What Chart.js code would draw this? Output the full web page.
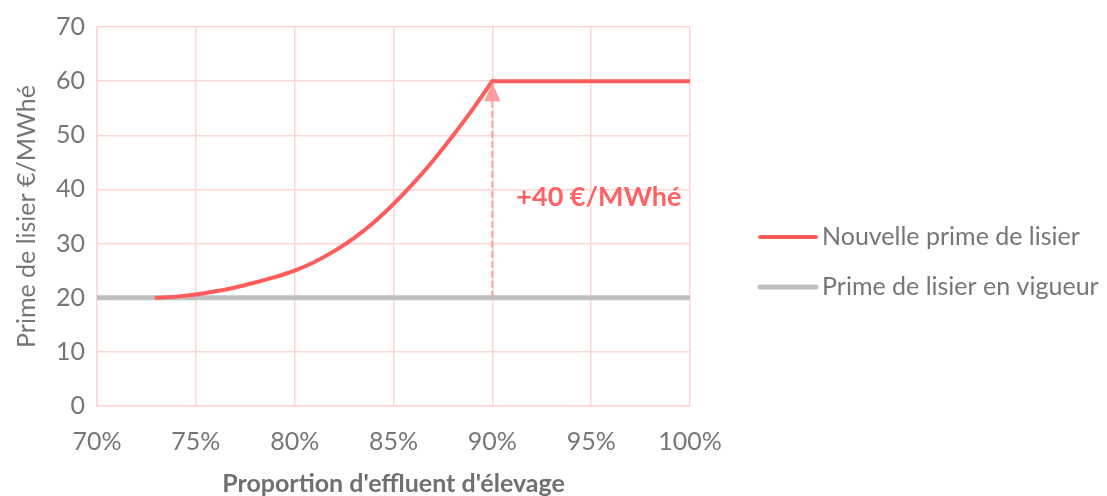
<!DOCTYPE html>
<html>
<head>
<meta charset="utf-8">
<script src="https://cdn.jsdelivr.net/npm/chart.js@4"></script>
<style>
  html, body { margin: 0; padding: 0; background: #ffffff; }
  #wrap { width: 1107px; height: 496px; position: relative; }
</style>
</head>
<body>
<div id="wrap"><canvas id="c"></canvas></div>
<script>
// Share of livestock effluent (%) and the proposed slurry premium (€/MWhé)
const shareNew = [73, 74, 75, 76, 77, 78, 79, 80, 81, 82, 83, 84, 85, 86, 87, 88, 89, 90, 100];
const primeNew = [20.0, 20.2, 20.6, 21.2, 21.9, 22.8, 23.8, 25.0, 26.6, 28.6, 31.0, 33.9, 37.3, 41.1, 45.3, 49.9, 54.8, 60.0, 60.0];

// Premium currently in force
const shareCurrent = [70, 100];
const primeCurrent = [20, 20];

// Step highlighted by the arrow
const stepShare = 90;
const stepFrom = 20;
const stepTo = 60;

const labelNew = 'Nouvelle prime de lisier';
const labelCurrent = 'Prime de lisier en vigueur';
const xTitle = "Proportion d'effluent d'élevage";
const yTitle = 'Prime de lisier €/MWhé';

const RED = '#ff5c5c';
const GREY = '#bfbfbf';
const ARROW = '#ff9c9c';
const GRID = '#ffd6d6';
const TEXT = '#767676';
const FONT = 'Lato, "Open Sans", sans-serif';

const toPoints = (xs, ys) => xs.map((x, i) => ({ x: x, y: ys[i] }));

// the rising part is smoothed, the plateau after the step stays straight
const kneeIdx = shareNew.indexOf(stepShare);
const newPoints = toPoints(shareNew, primeNew);
const risePoints = newPoints.slice(0, kneeIdx + 1);
const plateauPoints = newPoints.slice(kneeIdx);

const overlay = {
  id: 'overlay',
  afterDatasetsDraw(chart) {
    const ctx = chart.ctx;
    const xs = chart.scales.x, ys = chart.scales.y;
    const px = xs.getPixelForValue(stepShare);
    const tip = ys.getPixelForValue(stepTo);
    // arrow head
    ctx.save();
    ctx.fillStyle = ARROW;
    ctx.beginPath();
    ctx.moveTo(px, tip + 1);
    ctx.lineTo(px + 8, tip + 20);
    ctx.lineTo(px - 8, tip + 20);
    ctx.closePath();
    ctx.fill();
    // step label
    ctx.fillStyle = '#ff6262';
    ctx.font = 'bold 27px ' + FONT;
    ctx.textBaseline = 'middle';
    ctx.textAlign = 'left';
    const diff = stepTo - stepFrom;
    ctx.fillText('+' + diff + ' €/MWhé', px + 24, ys.getPixelForValue((stepFrom + stepTo) / 2) + 8);
    ctx.restore();
  },
  afterDraw(chart) {
    const ctx = chart.ctx;
    const x0 = chart.chartArea.right + 70;
    const rows = [
      { label: labelNew, color: RED, width: 4, y: 237 },
      { label: labelCurrent, color: GREY, width: 5, y: 287 }
    ];
    ctx.save();
    ctx.font = '25px ' + FONT;
    ctx.textBaseline = 'middle';
    ctx.textAlign = 'left';
    rows.forEach(r => {
      ctx.strokeStyle = r.color;
      ctx.lineWidth = r.width;
      ctx.lineCap = 'round';
      ctx.beginPath();
      ctx.moveTo(x0, r.y);
      ctx.lineTo(x0 + 56, r.y);
      ctx.stroke();
      ctx.fillStyle = TEXT;
      ctx.fillText(r.label, x0 + 62, r.y);
    });
    ctx.restore();
  }
};

new Chart(document.getElementById('c'), {
  type: 'line',
  data: {
    datasets: [
      {
        label: labelNew,
        data: risePoints,
        borderColor: RED,
        borderWidth: 4,
        pointRadius: 0,
        cubicInterpolationMode: 'monotone',
        borderCapStyle: 'round',
        order: 0
      },
      {
        label: labelNew,
        data: plateauPoints,
        borderColor: RED,
        borderWidth: 4,
        pointRadius: 0,
        borderCapStyle: 'round',
        order: 0
      },
      {
        label: 'step',
        data: [{ x: stepShare, y: stepFrom }, { x: stepShare, y: stepTo }],
        borderColor: ARROW,
        borderWidth: 2,
        borderDash: [7, 3],
        pointRadius: 0,
        order: 1
      },
      {
        label: labelCurrent,
        data: toPoints(shareCurrent, primeCurrent),
        borderColor: GREY,
        borderWidth: 5,
        pointRadius: 0,
        order: 2
      }
    ]
  },
  options: {
    responsive: true,
    maintainAspectRatio: false,
    animation: false,
    layout: { padding: { top: 21, right: 417, left: 0, bottom: 0 } },
    plugins: { legend: { display: false }, tooltip: { enabled: false } },
    scales: {
      x: {
        type: 'linear',
        min: 70, max: 100,
        afterFit(s) { s.height = 90; },
        grid: { color: GRID, lineWidth: 1.5, drawTicks: false },
        border: { color: GRID, width: 1.5 },
        ticks: {
          stepSize: 5, padding: 21, color: TEXT,
          font: { family: FONT, size: 25 },
          callback: v => v + '%'
        },
        title: {
          display: true, text: xTitle, color: '#707070',
          font: { family: FONT, size: 25, weight: 'bold' },
          padding: { top: 0, bottom: -3 }
        }
      },
      y: {
        min: 0, max: 70,
        afterFit(s) { s.width = 97; },
        grid: { color: GRID, lineWidth: 1.5, drawTicks: false },
        border: { color: GRID, width: 1.5 },
        ticks: {
          stepSize: 10, padding: 12, color: TEXT,
          font: { family: FONT, size: 25 }
        },
        title: {
          display: true, text: yTitle, color: TEXT,
          font: { family: FONT, size: 25 },
          padding: { top: 12, bottom: 0 }
        }
      }
    }
  },
  plugins: [overlay]
});
</script>
</body>
</html>
